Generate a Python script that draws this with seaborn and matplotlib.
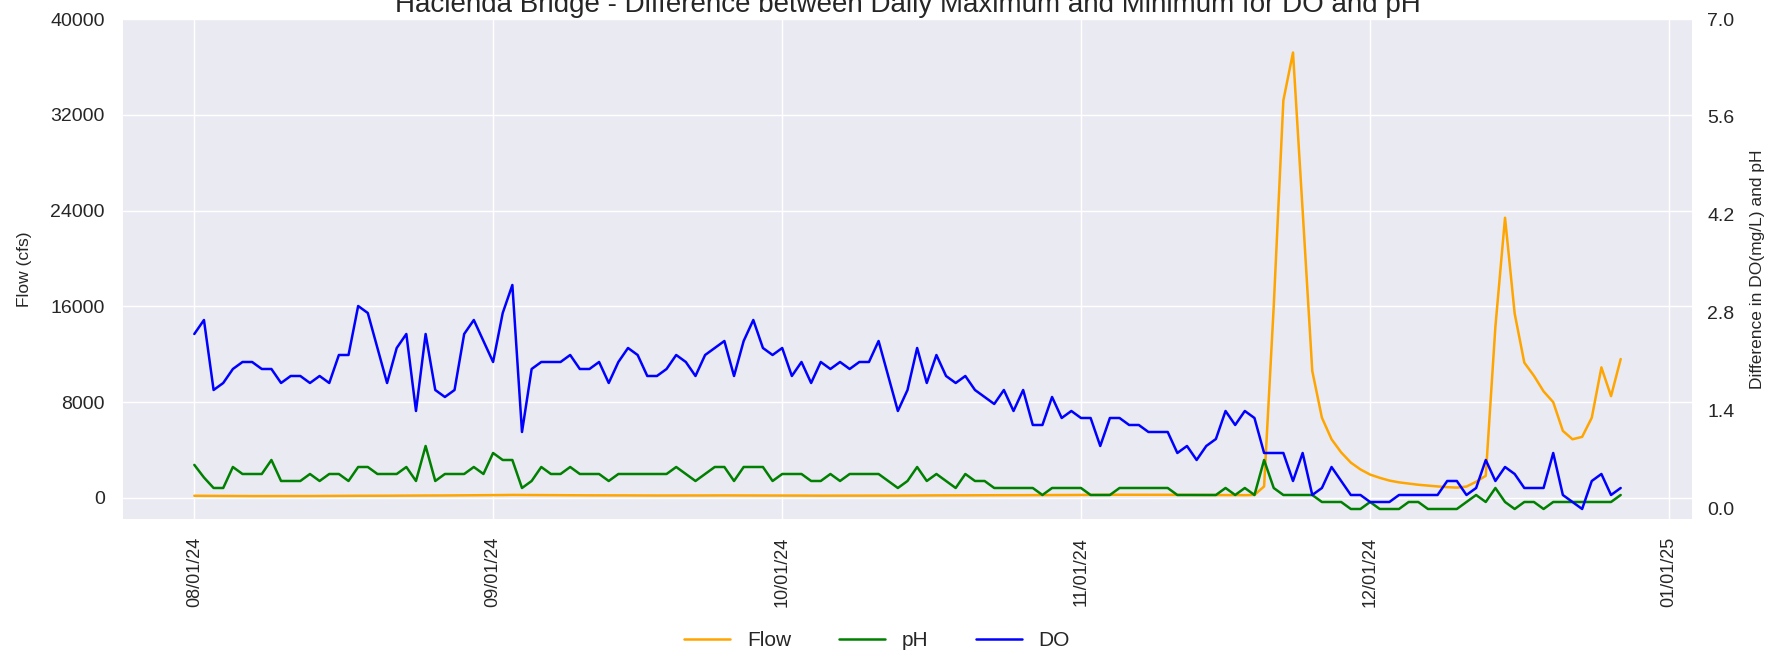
import numpy as np
import pandas as pd
import matplotlib
matplotlib.use("Agg")
import matplotlib.pyplot as plt
import matplotlib.dates as mdates
import seaborn as sns

# daily values, 08/01/24 .. 12/27/24
dates = pd.date_range("2024-08-01", "2024-12-27", freq="D")

flow_aug = [180, 175, 170, 165, 160, 160, 155, 155, 150, 150, 150, 155, 160, 165, 170, 170,
            175, 180, 180, 185, 185, 190, 190, 195, 200, 200, 205, 210, 215, 215, 220]
flow_sep = [230, 240, 250, 245, 240, 235, 230, 225, 220, 220, 215, 215, 210, 210, 210,
            205, 205, 200, 200, 200, 200, 205, 205, 210, 210, 210, 205, 200, 200, 200]
flow_oct = [200, 195, 195, 190, 190, 190, 185, 185, 185, 190, 190, 195, 195, 200, 200, 205,
            210, 210, 215, 215, 220, 220, 225, 225, 230, 230, 235, 235, 240, 240, 245]
flow_nov = [250, 255, 260, 260, 265, 265, 270, 270, 265, 260, 255, 250, 250, 245, 240,
            240, 235, 230, 250, 960, 16000, 33200, 37200, 24000, 10600, 6700, 4900, 3800,
            2950, 2380]
flow_dec = [1950, 1680, 1450, 1300, 1200, 1100, 1030, 960, 900, 860, 950, 1350, 1850, 14300,
            23400, 15400, 11300, 10200, 8900, 8000, 5600, 4900, 5100, 6700, 10900, 8500, 11600]

ph_aug = [0.63, 0.45, 0.3, 0.3, 0.6, 0.5, 0.5, 0.5, 0.7, 0.4, 0.4, 0.4, 0.5, 0.4, 0.5, 0.5,
          0.4, 0.6, 0.6, 0.5, 0.5, 0.5, 0.6, 0.4, 0.9, 0.4, 0.5, 0.5, 0.5, 0.6, 0.5]
ph_sep = [0.8, 0.7, 0.7, 0.3, 0.4, 0.6, 0.5, 0.5, 0.6, 0.5, 0.5, 0.5, 0.4, 0.5, 0.5,
          0.5, 0.5, 0.5, 0.5, 0.6, 0.5, 0.4, 0.5, 0.6, 0.6, 0.4, 0.6, 0.6, 0.6, 0.4]
ph_oct = [0.5, 0.5, 0.5, 0.4, 0.4, 0.5, 0.4, 0.5, 0.5, 0.5, 0.5, 0.4, 0.3, 0.4, 0.6, 0.4,
          0.5, 0.4, 0.3, 0.5, 0.4, 0.4, 0.3, 0.3, 0.3, 0.3, 0.3, 0.2, 0.3, 0.3, 0.3]
ph_nov = [0.3, 0.2, 0.2, 0.2, 0.3, 0.3, 0.3, 0.3, 0.3, 0.3, 0.2, 0.2, 0.2, 0.2, 0.2,
          0.3, 0.2, 0.3, 0.2, 0.7, 0.3, 0.2, 0.2, 0.2, 0.2, 0.1, 0.1, 0.1, 0.0, 0.0]
ph_dec = [0.1, 0.0, 0.0, 0.0, 0.1, 0.1, 0.0, 0.0, 0.0, 0.0, 0.1, 0.2, 0.1, 0.3, 0.1,
          0.0, 0.1, 0.1, 0.0, 0.1, 0.1, 0.1, 0.1, 0.1, 0.1, 0.1, 0.2]

do_aug = [2.5, 2.7, 1.7, 1.8, 2.0, 2.1, 2.1, 2.0, 2.0, 1.8, 1.9, 1.9, 1.8, 1.9, 1.8, 2.2,
          2.2, 2.9, 2.8, 2.3, 1.8, 2.3, 2.5, 1.4, 2.5, 1.7, 1.6, 1.7, 2.5, 2.7, 2.4]
do_sep = [2.1, 2.8, 3.2, 1.1, 2.0, 2.1, 2.1, 2.1, 2.2, 2.0, 2.0, 2.1, 1.8, 2.1, 2.3,
          2.2, 1.9, 1.9, 2.0, 2.2, 2.1, 1.9, 2.2, 2.3, 2.4, 1.9, 2.4, 2.7, 2.3, 2.2]
do_oct = [2.3, 1.9, 2.1, 1.8, 2.1, 2.0, 2.1, 2.0, 2.1, 2.1, 2.4, 1.9, 1.4, 1.7, 2.3, 1.8,
          2.2, 1.9, 1.8, 1.9, 1.7, 1.6, 1.5, 1.7, 1.4, 1.7, 1.2, 1.2, 1.6, 1.3, 1.4]
do_nov = [1.3, 1.3, 0.9, 1.3, 1.3, 1.2, 1.2, 1.1, 1.1, 1.1, 0.8, 0.9, 0.7, 0.9, 1.0,
          1.4, 1.2, 1.4, 1.3, 0.8, 0.8, 0.8, 0.4, 0.8, 0.2, 0.3, 0.6, 0.4, 0.2, 0.2]
do_dec = [0.1, 0.1, 0.1, 0.2, 0.2, 0.2, 0.2, 0.2, 0.4, 0.4, 0.2, 0.3, 0.7, 0.4, 0.6,
          0.5, 0.3, 0.3, 0.3, 0.8, 0.2, 0.1, 0.0, 0.4, 0.5, 0.2, 0.3]

df = pd.DataFrame({
    "Date": dates,
    "Flow": flow_aug + flow_sep + flow_oct + flow_nov + flow_dec,
    "pH": ph_aug + ph_sep + ph_oct + ph_nov + ph_dec,
    "DO": do_aug + do_sep + do_oct + do_nov + do_dec,
})

sns.set_theme(style="darkgrid")
plt.rcParams["font.family"] = ["Liberation Sans", "DejaVu Sans"]

fig = plt.figure(figsize=(17.85, 6.54), dpi=100)
fig.subplots_adjust(left=123 / 1785, right=1692 / 1785, bottom=1 - 519 / 654, top=1 - 19 / 654)
ax = fig.add_subplot(111)
ax2 = ax.twinx()

lw = 1.8
sns.lineplot(data=df, x="Date", y="Flow", ax=ax, color="orange", label="Flow", legend=False, linewidth=lw)
sns.lineplot(data=df, x="Date", y="pH", ax=ax2, color="green", label="pH", legend=False, linewidth=lw)
sns.lineplot(data=df, x="Date", y="DO", ax=ax2, color="blue", label="DO", legend=False, linewidth=lw)

ax.set_ylim(-1760, 40000)
ax.set_yticks(np.linspace(0, 40000, 6))
ax.yaxis.set_major_formatter(matplotlib.ticker.FormatStrFormatter("%d"))
ax2.set_ylim(-0.143, 7.0)
ax2.set_yticks(np.linspace(0, 7, 6))
ax2.yaxis.set_major_formatter(matplotlib.ticker.FormatStrFormatter("%.1f"))
ax2.grid(False)

ax.xaxis.set_major_locator(mdates.MonthLocator())
ax.xaxis.set_major_formatter(mdates.DateFormatter("%m/%d/%y"))
ax.tick_params(axis="x", labelrotation=90, labelsize=13, pad=13, length=0)
ax.tick_params(axis="y", labelsize=14, pad=13, length=0)
ax2.tick_params(axis="y", labelsize=14, pad=11, length=0)
for spine in list(ax.spines.values()) + list(ax2.spines.values()):
    spine.set_visible(False)

ax.set_xlabel("")
ax.set_ylabel("Flow (cfs)", fontsize=12.5)
ax2.set_ylabel("Difference in DO(mg/L) and pH", fontsize=12.5)
ax.yaxis.set_label_coords(-0.058, 0.5)
ax2.yaxis.set_label_coords(1.037, 0.5)

ax.set_title("Hacienda Bridge - Difference between Daily Maximum and Minimum for DO and pH",
             fontsize=20, pad=5)

h1, l1 = ax.get_legend_handles_labels()
h2, l2 = ax2.get_legend_handles_labels()
fig.legend(h1 + h2, l1 + l2, loc="center", bbox_to_anchor=(877 / 1785, 1 - 641 / 654),
           ncol=3, frameon=False, fontsize=15, handlelength=2.2, columnspacing=2.3)

fig.savefig("out.png", dpi=100)
